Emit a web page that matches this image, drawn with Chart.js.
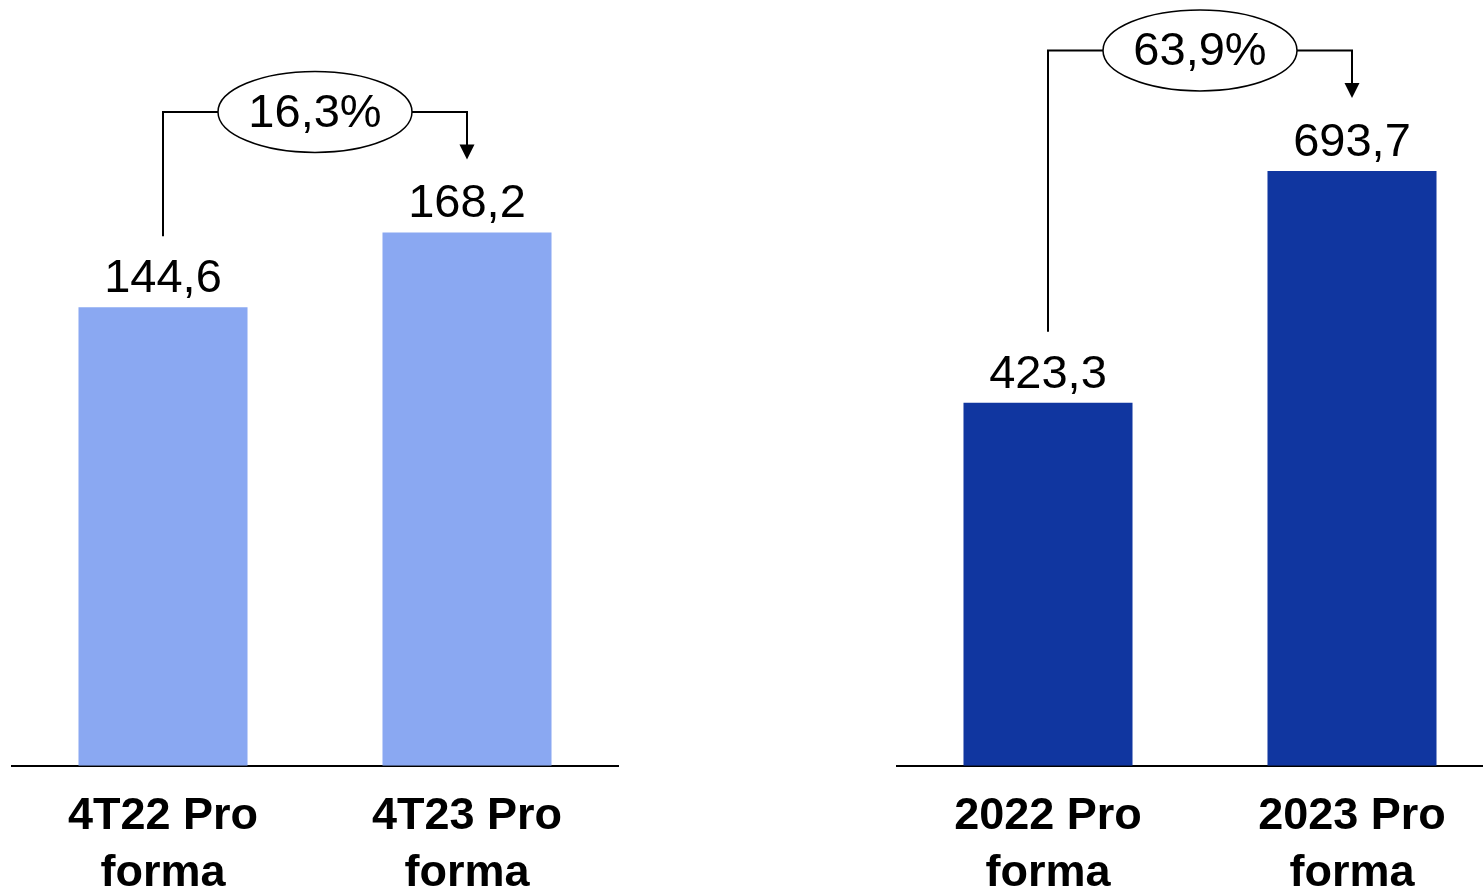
<!DOCTYPE html>
<html>
<head>
<meta charset="utf-8">
<script src="https://cdn.jsdelivr.net/npm/chart.js@4"></script>
<style>
  html, body { margin: 0; padding: 0; background: #fff; overflow: hidden; width: 1483px; height: 891px; }
  .box { position: absolute; top: 0; width: 608px; height: 924px; }
  #box-q { left: 11px; }
  #box-y { left: 896px; }
</style>
</head>
<body>
<div class="box" id="box-q"><canvas id="chart-q"></canvas></div>
<div class="box" id="box-y"><canvas id="chart-y"></canvas></div>
<script>
// DADOS
const periodsQ = [["4T22 Pro", "forma"], ["4T23 Pro", "forma"]];
const valuesQ = [144.6, 168.2];
const growthQ = "16,3%";

const periodsY = [["2022 Pro", "forma"], ["2023 Pro", "forma"]];
const valuesY = [423.3, 693.7];
const growthY = "63,9%";

const FONT = "'Liberation Sans', Arial, sans-serif";

function fmt(v) {
  return v.toFixed(1).replace(".", ",");
}

// rotulos + seta de crescimento
const growthPlugin = {
  id: "growth",
  afterDatasetsDraw(chart, args, opts) {
    const ctx = chart.ctx;
    const bars = chart.getDatasetMeta(0).data;
    const vals = chart.data.datasets[0].data;
    ctx.save();
    ctx.fillStyle = "#000";
    ctx.font = "47px " + FONT;
    ctx.textAlign = "center";
    ctx.textBaseline = "alphabetic";
    bars.forEach(function (b, i) {
      ctx.fillText(fmt(vals[i]), b.x, b.y - 15);
    });

    const a = bars[0], b = bars[1];
    const yTop = Math.min(a.y, b.y) - 120.5;
    const cx = (a.x + b.x) / 2;
    const rx = 97, ry = 40.5;

    ctx.strokeStyle = "#000";
    ctx.lineWidth = 2;
    ctx.beginPath();
    ctx.moveTo(a.x, a.y - 71);
    ctx.lineTo(a.x, yTop);
    ctx.lineTo(cx - rx, yTop);
    ctx.moveTo(cx + rx, yTop);
    ctx.lineTo(b.x, yTop);
    ctx.lineTo(b.x, b.y - 86);
    ctx.stroke();

    // ponta da seta
    ctx.beginPath();
    ctx.moveTo(b.x - 7.5, b.y - 88);
    ctx.lineTo(b.x + 7.5, b.y - 88);
    ctx.lineTo(b.x, b.y - 73);
    ctx.closePath();
    ctx.fill();

    ctx.beginPath();
    ctx.ellipse(cx, yTop, rx, ry, 0, 0, Math.PI * 2);
    ctx.fillStyle = "#fff";
    ctx.fill();
    ctx.lineWidth = 1.5;
    ctx.stroke();

    ctx.fillStyle = "#000";
    ctx.textBaseline = "middle";
    ctx.fillText(opts.text, cx, yTop + 2);
    ctx.restore();
  },
};

function makeChart(id, labels, values, color, max, growth) {
  return new Chart(document.getElementById(id), {
    type: "bar",
    data: {
      labels: labels,
      datasets: [
        {
          data: values,
          backgroundColor: color,
          borderWidth: 0,
          barPercentage: 0.556,
          categoryPercentage: 1,
        },
      ],
    },
    options: {
      responsive: true,
      maintainAspectRatio: false,
      animation: false,
      layout: { padding: 0 },
      plugins: {
        legend: { display: false },
        tooltip: { enabled: false },
        growth: { text: growth },
      },
      scales: {
        x: {
          grid: { display: false, drawTicks: false },
          border: { display: true, color: "#000", width: 2 },
          ticks: {
            color: "#000",
            padding: 22,
            font: { family: FONT, size: 45, weight: "bold", lineHeight: 1.27 },
          },
        },
        y: {
          display: false,
          min: 0,
          max: max,
        },
      },
    },
    plugins: [growthPlugin],
  });
}

makeChart("chart-q", periodsQ, valuesQ, "#8AA8F2", 241.5, growthQ);
makeChart("chart-y", periodsY, valuesY, "#1036A0", 893, growthY);
</script>
</body>
</html>
